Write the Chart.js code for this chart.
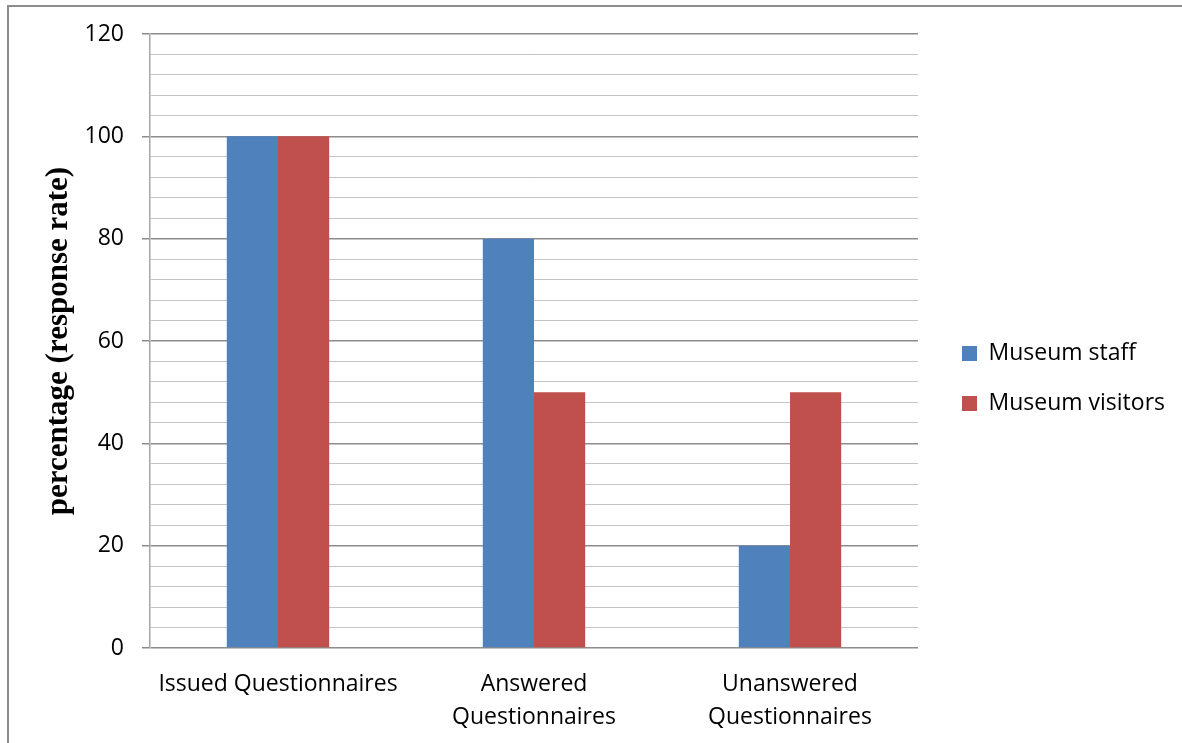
<!DOCTYPE html>
<html>
<head>
<meta charset="utf-8">
<script src="https://cdn.jsdelivr.net/npm/chart.js@4.4.1/dist/chart.umd.min.js"></script>
<style>
  html, body { margin:0; padding:0; background:#fff; }
  #wrap { position:relative; width:1182px; height:743px; }
  #frame { position:absolute; left:7px; top:5px; right:0; bottom:0;
           border-top:2px solid #8c8c8c; border-left:2px solid #8c8c8c; }
  #myChart { position:absolute; left:0; top:0; }
</style>
</head>
<body>
<div id="wrap">
  <div id="frame"></div>
  <canvas id="myChart" width="1182" height="743"></canvas>
</div>
<script>
// data
const categories = [["Issued Questionnaires"], ["Answered", "Questionnaires"], ["Unanswered", "Questionnaires"]];
const staffValues = [100, 80, 20];
const visitorValues = [100, 50, 50];
const seriesNames = ["Museum staff", "Museum visitors"];
const yMin = 0;
const yMax = 120;
const yMinorStep = 4;
const yLabelStep = 20;

const majorColor = "#8c8c8c";
const minorColor = "#c4c4c4";
const isMajor = (v) => v % yLabelStep === 0;

// empty space between plot and legend, and a small lift of the legend
const legendShift = 17;
const legendLift = 10;
const legendGap = {
    id: 'legendGap',
    beforeInit(chart) {
        const legend = chart.legend;
        const fit = legend.fit;
        legend.fit = function () {
            fit.call(this);
            this.width += legendShift;
        };
        const draw = legend._draw;
        legend._draw = function () {
            this.ctx.save();
            this.ctx.translate(legendShift, -legendLift);
            draw.call(this);
            this.ctx.restore();
        };
    }
};

function drawChart() {
    var ctx = document.getElementById('myChart');
    const myChart = new Chart(ctx, {
        type: 'bar',
        data: {
            labels: categories,
            datasets: [
                {
                    label: seriesNames[0],
                    data: staffValues,
                    backgroundColor: "#4f81bd"
                },
                {
                    label: seriesNames[1],
                    data: visitorValues,
                    backgroundColor: "#c0504d"
                }
            ]
        },
        plugins: [legendGap],
        options: {
            responsive: false,
            animation: false,
            layout: {
                padding: { top: 34, left: 30, right: 7, bottom: 0 }
            },
            datasets: {
                bar: { categoryPercentage: 0.4, barPercentage: 1.0 }
            },
            plugins: {
                legend: {
                    position: 'right',
                    align: 'center',
                    labels: {
                        boxWidth: 15,
                        boxHeight: 15,
                        padding: 27,
                        color: '#000',
                        font: { family: 'Open Sans', size: 23 }
                    }
                },
                tooltip: { enabled: false }
            },
            scales: {
                x: {
                    grid: { display: false, drawTicks: false },
                    border: { display: false },
                    ticks: {
                        color: '#000',
                        padding: 20,
                        maxRotation: 0,
                        autoSkip: false,
                        font: { family: 'Open Sans', size: 23, lineHeight: 1.42 }
                    },
                    afterFit: (s) => { s.height = 95; }
                },
                y: {
                    min: yMin,
                    max: yMax,
                    border: { display: true, color: '#a6a6a6', width: 1.5 },
                    grid: {
                        color: (c) => isMajor(c.tick.value) ? majorColor : minorColor,
                        lineWidth: (c) => isMajor(c.tick.value) ? 1.5 : 1,
                        tickColor: (c) => isMajor(c.tick.value) ? majorColor : 'rgba(0,0,0,0)',
                        tickLength: 8
                    },
                    ticks: {
                        stepSize: yMinorStep,
                        autoSkip: false,
                        color: '#000',
                        padding: 18,
                        font: { family: 'Open Sans', size: 23 },
                        callback: (v) => isMajor(v) ? v : ''
                    },
                    title: {
                        display: true,
                        text: 'percentage (response rate)',
                        color: '#000',
                        font: { family: 'Liberation Serif', size: 31, weight: 'bold' },
                        padding: { top: 10, bottom: 0 }
                    },
                    afterFit: (s) => { s.width = 120; }
                }
            }
        }
    });
}

// wait for the local fonts so text is measured right
Promise.all([
    document.fonts.load('23px "Open Sans"'),
    document.fonts.load('bold 31px "Liberation Serif"')
]).then(drawChart, drawChart);
</script>
</body>
</html>
